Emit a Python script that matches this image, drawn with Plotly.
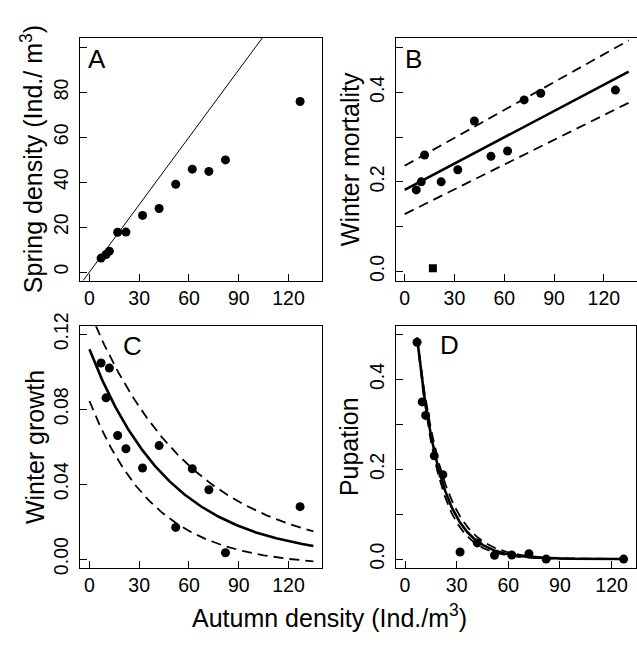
import numpy as np
import plotly.graph_objects as go

# ---------------- data ----------------
autumn = [7, 10, 12, 17, 22, 32, 42, 52, 62, 72, 82, 127]
spring = [6.2, 7.8, 9.3, 17.7, 17.8, 25.2, 28.3, 39.1, 45.8, 44.8, 49.9, 75.9]

mort_x = [7, 10, 12, 22, 32, 42, 52, 62, 72, 82, 127]
mort_y = [0.182, 0.200, 0.260, 0.200, 0.227, 0.336, 0.257, 0.269, 0.383, 0.398, 0.405]
mort_excl_x = [17]
mort_excl_y = [0.007]

growth = [0.1047, 0.0861, 0.102, 0.066, 0.0589, 0.0486, 0.0606, 0.0169, 0.0482, 0.037, 0.0034, 0.028]
pupation = [0.483, 0.350, 0.320, 0.230, 0.188, 0.0157, 0.036, 0.0086, 0.009, 0.012, 0.0, 0.0]

# fitted model parameters (intercept, slope) for B
mort_fit = [0.182, 0.001956]
mort_upper = [0.236, 0.002074]
mort_lower = [0.128, 0.001842]
# exponential a*exp(-b x)+c for C
growth_fit = [0.112, 0.02054, 0.0]
growth_upper = [0.1323, 0.01624, 0.0]
growth_lower = [0.0884, 0.0256, -0.004]
# exponential for D
pup_fit = [0.816, 0.072, 0.0]
pup_upper = [0.784, 0.066, 0.0]
pup_lower = [0.850, 0.078, 0.0]

x_ticks = [0, 30, 60, 90, 120]
a_ticks = [0, 20, 40, 60, 80]
a_minor = [100]
bd_ticks = [0, 0.2, 0.4]
bd_minor = [0.1, 0.3, 0.5]
c_ticks = [0, 0.04, 0.08, 0.12]
fit_max = 135

W, H = 637, 649
FONT = "Liberation Sans, Arial, sans-serif"


def fx(p):
    return p / W


def fy(p):
    return 1 - p / H


def expo(par, x):
    return par[0] * np.exp(-par[1] * x) + par[2]


fig = go.Figure()
solid = dict(color="black", width=2.6)
dashed = dict(color="black", width=1.8, dash="10px,6px")
mk = dict(color="black", size=9)

# A
xl = np.array([-20.0, 160.0])
fig.add_trace(go.Scatter(x=xl, y=xl, mode="lines", line=dict(color="black", width=1),
                         xaxis="x", yaxis="y"))
fig.add_trace(go.Scatter(x=autumn, y=spring, mode="markers", marker=mk, xaxis="x", yaxis="y"))

# B
xb = np.linspace(0, fit_max, 200)
for par, ln in [(mort_upper, dashed), (mort_lower, dashed), (mort_fit, solid)]:
    fig.add_trace(go.Scatter(x=xb, y=par[0] + par[1] * xb, mode="lines", line=ln,
                             xaxis="x2", yaxis="y2"))
fig.add_trace(go.Scatter(x=mort_x, y=mort_y, mode="markers", marker=mk, xaxis="x2", yaxis="y2"))
fig.add_trace(go.Scatter(x=mort_excl_x, y=mort_excl_y, mode="markers",
                         marker=dict(color="black", size=8, symbol="square"),
                         xaxis="x2", yaxis="y2"))

# C
for par, ln in [(growth_upper, dashed), (growth_lower, dashed), (growth_fit, solid)]:
    fig.add_trace(go.Scatter(x=xb, y=expo(par, xb), mode="lines", line=ln,
                             xaxis="x3", yaxis="y3"))
fig.add_trace(go.Scatter(x=autumn, y=growth, mode="markers", marker=mk, xaxis="x3", yaxis="y3"))

# D
xd = np.linspace(min(autumn), max(autumn), 300)
for par, ln in [(pup_upper, dashed), (pup_lower, dashed), (pup_fit, solid)]:
    fig.add_trace(go.Scatter(x=xd, y=expo(par, xd), mode="lines", line=ln,
                             xaxis="x4", yaxis="y4"))
fig.add_trace(go.Scatter(x=autumn, y=pupation, mode="markers", marker=mk, xaxis="x4", yaxis="y4"))


def xax(domain, rng, mirror=True, anchor="y"):
    return dict(domain=domain, range=rng, anchor=anchor, showline=True, linecolor="black",
                linewidth=1, mirror=mirror, ticks="inside", ticklen=7, tickcolor="black",
                tickwidth=1, showgrid=False, zeroline=False, tickvals=x_ticks,
                ticktext=[str(v) for v in x_ticks],
                tickfont=dict(size=19.5, family=FONT, color="black"), ticklabelstandoff=0)


def yax(domain, rng, vals, fmt, anchor, minor=None, mirror=True):
    d = dict(domain=domain, range=rng, anchor=anchor, showline=True, linecolor="black",
             linewidth=1, mirror=mirror, ticks="inside", ticklen=7, tickcolor="black",
             tickwidth=1, showgrid=False, zeroline=False, tickvals=vals,
             ticktext=[fmt.format(v) for v in vals],
             tickangle=-90, tickfont=dict(size=19.5, family=FONT, color="black"),
             ticklabelstandoff=3)
    if minor:
        d["minor"] = dict(tickvals=minor, ticks="inside", ticklen=7, tickcolor="black",
                          tickwidth=1, showgrid=False)
    return d


top_dom = [fy(275.5), fy(24.5)]
bot_dom = [fy(572.5), fy(322.7)]
left_dom = [fx(80), fx(322)]
right_dom = [fx(395.7), 1.0]
d_dom = [fx(395.7), fx(636)]

fig.update_layout(
    width=W, height=H, margin=dict(l=0, r=0, t=0, b=0),
    paper_bgcolor="white", plot_bgcolor="white", showlegend=False,
    xaxis=xax(left_dom, [-5.7, 140.2], anchor="y"),
    yaxis=yax(top_dom, [-3.8, 104.3], a_ticks, "{:.0f}", "x", minor=a_minor),
    xaxis2=xax(right_dom, [-5.4, 140.0], anchor="y2"),
    yaxis2=yax(top_dom, [-0.0205, 0.522], bd_ticks, "{:.1f}", "x2", minor=bd_minor,
               mirror=False),
    xaxis3=xax(left_dom, [-5.7, 140.2], anchor="y3"),
    yaxis3=yax(bot_dom, [-0.00475, 0.1243], c_ticks, "{:.2f}", "x3"),
    xaxis4=xax(d_dom, [-5.4, 134.2], anchor="y4"),
    yaxis4=yax(bot_dom, [-0.0198, 0.5185], bd_ticks, "{:.1f}", "x4", minor=bd_minor),
)

ann = []
tf = dict(size=25, family=FONT, color="black")
# y-axis titles
for txt, xc, yc in [("Spring density (Ind./ m<sup>3</sup>)", 32, 150),
                    ("Winter mortality", 350, 150),
                    ("Winter growth", 35, 447.6),
                    ("Pupation", 349, 447.6)]:
    ann.append(dict(text=txt, x=fx(xc), y=fy(yc), xref="paper", yref="paper",
                    textangle=-90, showarrow=False, font=tf, xanchor="center", yanchor="middle"))
# x title
ann.append(dict(text="Autumn density (Ind./m<sup>3</sup>)", x=fx(329), y=fy(622),
                xref="paper", yref="paper", showarrow=False, font=tf,
                xanchor="center", yanchor="middle"))
# panel letters
for txt, xl_, yc in [("A", 86, 47), ("B", 403, 46), ("C", 121, 343.5), ("D", 438, 342)]:
    ann.append(dict(text=txt, x=fx(xl_), y=fy(yc), xref="paper", yref="paper",
                    showarrow=False, font=dict(size=26, family=FONT, color="black"),
                    xanchor="left", yanchor="middle"))
fig.update_layout(annotations=ann)

fig.write_html("out.html", config={"displayModeBar": False},
               post_script="document.body.style.margin='0';")
